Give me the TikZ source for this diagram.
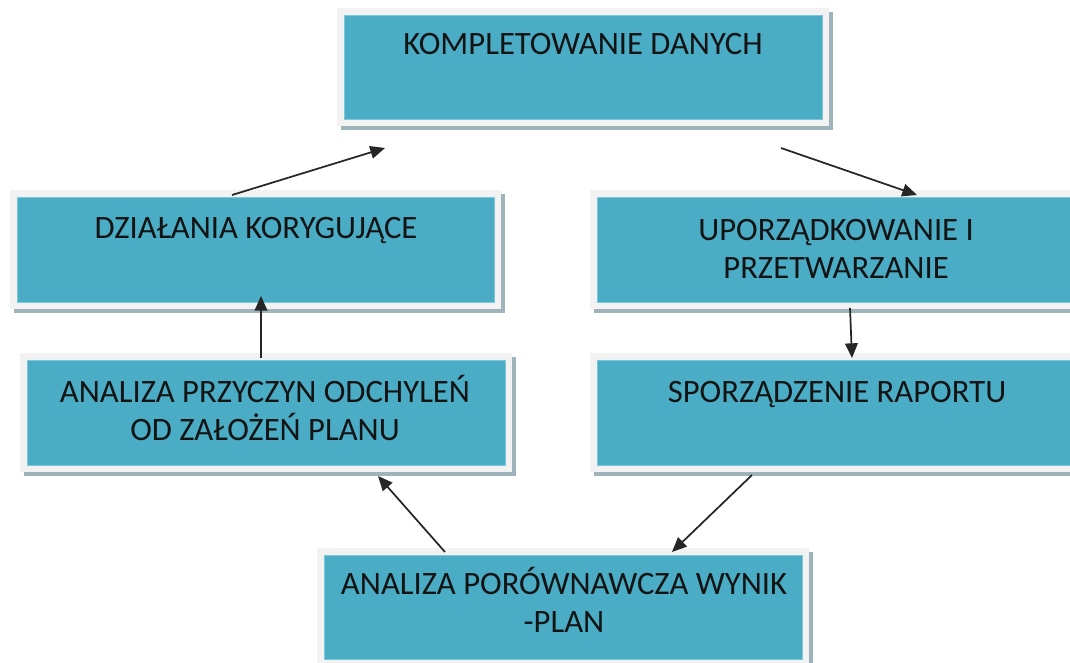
\documentclass[tikz,border=0pt]{standalone}
\usepackage{fontspec}
\setmainfont{Carlito}
\usetikzlibrary{arrows.meta,fit}
\definecolor{boxfill}{HTML}{4BACC6}
\definecolor{boxedge}{HTML}{7CC6DA}
\definecolor{framec}{HTML}{F2F2F2}
\definecolor{shadowc}{HTML}{9FB3BB}
\definecolor{txtc}{HTML}{141414}
\tikzset{
  inbox/.style={fill=boxfill, draw=boxedge, line width=0.5pt, inner sep=0pt},
  lbl/.style={text=txtc, font=\fontsize{24.5pt}{28.5pt}\selectfont, align=center, inner sep=0pt},
  conn/.style={-{Triangle[length=11pt,width=9.5pt]}, line width=1.3pt, black!85}
}
\newcommand\pbox[5]{%
  \fill[shadowc] (#2-7+4,#3-7+4) rectangle (#4+7+4,#5+7+4);
  \fill[framec] (#2-7,#3-7) rectangle (#4+7,#5+7);
  \node[inbox, fit={(#2,#3) (#4,#5)}] (#1) {};
}
\begin{document}
\begin{tikzpicture}[x=0.75pt,y=-0.75pt]
\useasboundingbox (0,0) rectangle (1070,663);
\fill[white] (0,0) rectangle (1070,663);
\pbox{top}{344}{15}{822}{119}
\pbox{dz}{17}{197}{494}{302}
\pbox{up}{597}{197}{1080}{302}
\pbox{an}{27}{360}{505}{465}
\pbox{sp}{597}{360}{1080}{465}
\pbox{bot}{324}{555}{802}{659}
\node[lbl, anchor=base] (ttop) at (583,55) {KOMPLETOWANIE DANYCH};
\node[lbl, anchor=base] (tdz) at (256,238) {DZIAŁANIA KORYGUJĄCE};
\node[lbl, anchor=base] (tup) at (836,278) {UPORZĄDKOWANIE I\\PRZETWARZANIE};
\node[lbl, anchor=base] (tan) at (265,440) {ANALIZA PRZYCZYN ODCHYLEŃ\\OD ZAŁOŻEŃ PLANU};
\node[lbl, anchor=base] (tsp) at (837,402) {SPORZĄDZENIE RAPORTU};
\node[lbl, anchor=base] (tbot) at (564,632) {ANALIZA PORÓWNAWCZA WYNIK\\-PLAN};
\coordinate (a1s) at (232,195); \coordinate (a1e) at (385,148);
\coordinate (a2s) at (781,148); \coordinate (a2e) at (917,195);
\coordinate (a3s) at (850,308); \coordinate (a3e) at (852,358);
\coordinate (a4s) at (752,475); \coordinate (a4e) at (672,552);
\coordinate (a5s) at (445,552); \coordinate (a5e) at (378,476);
\coordinate (a6s) at (261,358); \coordinate (a6e) at (261,296);
\draw[conn] (a1s) -- (a1e);
\draw[conn] (a2s) -- (a2e);
\draw[conn] (a3s) -- (a3e);
\draw[conn] (a4s) -- (a4e);
\draw[conn] (a5s) -- (a5e);
\draw[conn] (a6s) -- (a6e);
\end{tikzpicture}
\end{document}
